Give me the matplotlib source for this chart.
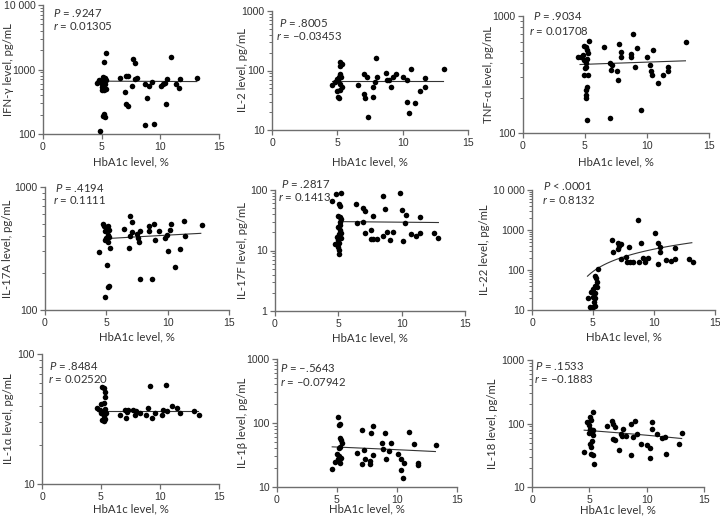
"""HbA1c vs cytokine levels, 3x3 scatter grid."""

import matplotlib

matplotlib.use("Agg")
import matplotlib.pyplot as plt
import numpy as np
from matplotlib.ticker import LogLocator, NullFormatter

# ---- data ----
ifng_x = [5.36, 5.21, 4.56, 4.79, 4.93, 4.99, 5.07, 5.13, 5.21, 5.30, 5.36, 5.19, 5.0, 5.27,
          5.18, 5.27, 5.10, 4.84, 5.41, 6.55, 7.01, 7.07, 7.26, 7.07, 7.26, 7.64, 7.83, 7.83,
          7.61, 7.98, 8.72, 8.86, 8.72, 9.06, 9.26, 9.49, 10.03, 10.20, 10.37, 10.48, 10.60,
          10.91, 11.31, 11.62, 11.68, 13.16]
ifng_y = [1780, 1290, 615, 680, 640, 535, 590, 775, 690, 745, 505, 475, 480, 600,
          205, 182, 193, 110, 680, 737, 440, 780, 780, 290, 270, 1480, 1265, 700,
          550, 740, 590, 360, 138, 550, 640, 142, 550, 590, 615, 290, 700,
          1540, 600, 525, 700, 745]

il2_x = [4.63, 4.81, 4.94, 5.06, 5.14, 5.19, 5.24, 5.19, 5.32, 5.27, 5.06, 5.19, 5.32, 5.19,
         4.94, 5.12, 6.60, 7.06, 7.24, 7.03, 7.11, 7.31, 7.70, 7.75, 7.88, 7.98, 8.0, 8.70,
         8.77, 8.95, 9.10, 9.28, 9.49, 10.05, 10.31, 10.36, 10.49, 10.61, 10.95, 11.36,
         11.71, 11.74, 13.20]
il2_y = [56, 64, 46, 36, 34, 138, 121, 88, 130, 77, 68, 60, 53, 47,
         72, 79, 58, 86, 77, 41, 35, 16.3, 36, 53, 64, 163, 79, 92,
         68, 68, 53, 77, 86, 77, 70, 30, 19.4, 104, 28, 46,
         75, 52, 104]

tnfa_x = [4.47, 4.69, 4.85, 4.91, 5.07, 5.18, 5.26, 5.34, 4.93, 5.07, 5.18, 5.0, 5.12, 4.91,
          5.26, 5.18, 5.12, 5.07, 5.12, 5.18, 6.52, 7.0, 7.09, 7.20, 7.0, 7.60, 7.68, 7.76,
          7.92, 7.92, 8.68, 8.68, 8.87, 9.0, 9.16, 9.49, 10.0, 10.24, 10.30, 10.38, 10.51,
          10.86, 11.32, 11.67, 11.73, 13.13]
tnfa_y = [443, 443, 463, 553, 546, 511, 480, 615, 420, 393, 433, 356, 368, 312,
          312, 245, 232, 210, 201, 128, 538, 398, 344, 380, 134, 340, 283, 571,
          495, 448, 472, 443, 696, 368, 535, 158, 443, 385, 340, 312, 511,
          268, 312, 368, 340, 598]

il17a_x = [4.44, 4.69, 4.85, 4.99, 5.10, 4.93, 5.10, 4.99, 5.18, 5.23, 5.10, 4.90, 5.26, 5.04,
           5.10, 5.18, 4.93, 6.43, 6.84, 6.89, 7.08, 7.08, 6.89, 7.49, 7.55, 7.63, 7.77, 7.77,
           8.45, 8.50, 8.86, 8.72, 8.99, 9.26, 9.81, 9.95, 10.03, 10.22, 10.27, 10.63, 11.04,
           11.31, 11.39, 12.78]
il17a_y = [298, 500, 484, 463, 478, 435, 408, 383, 449, 395, 360, 371, 321, 231,
           155, 158, 127, 457, 321, 585, 519, 427, 401, 413, 383, 356, 441, 177,
           478, 441, 500, 177, 371, 435, 388, 408, 304, 449, 500, 224, 311,
           526, 401, 493]

il17f_x = [4.49, 4.81, 5.20, 5.02, 5.12, 4.99, 5.12, 5.20, 5.12, 4.99, 5.12, 5.20, 5.07, 4.86,
           4.73, 4.94, 5.07, 4.94, 5.07, 5.07, 5.20, 5.17, 6.38, 6.44, 6.91, 6.91, 7.09, 7.12,
           7.54, 7.54, 7.75, 7.75, 8.06, 8.54, 8.54, 8.72, 8.88, 9.06, 9.32, 9.85, 10.06,
           10.11, 10.24, 10.35, 10.72, 11.11, 11.43, 11.48, 12.58, 12.90]
il17f_y = [65.8, 87, 89, 58.7, 54, 37, 36, 33, 30, 24.8, 21.8, 19.7, 18.5, 17,
           12.6, 14.9, 13.1, 11.6, 10.2, 8.6, 15.9, 26.4, 58, 28, 51, 30, 45, 19.2,
           21.8, 15.3, 37, 15.3, 15.3, 79.6, 17.4, 48.5, 20.5, 14.9, 20.5, 88, 46.7,
           14.4, 28, 38.6, 18.5, 17.4, 19.2, 36, 19.2, 16.3]

il22_x = [4.55, 4.77, 4.99, 5.13, 4.85, 4.99, 5.13, 5.04, 5.18, 5.18, 5.26, 5.32, 5.18, 5.37,
          5.32, 5.10, 6.54, 6.60, 7.04, 7.09, 7.17, 7.28, 7.31, 7.72, 7.77, 7.99, 8.04, 8.26,
          8.70, 8.73, 8.92, 9.08, 9.24, 9.49, 10.06, 10.31, 10.36, 10.50, 10.50, 10.96,
          11.37, 11.73, 11.73, 12.87, 13.17]
il22_y = [20, 11.7, 11.7, 12.8, 29, 33.6, 26.7, 20.8, 20, 40.8, 62, 49.5, 72.8, 103,
          37, 15.6, 551, 281, 481, 340, 396, 454, 184, 210, 157, 374, 157, 157,
          1750, 163, 481, 198, 157, 198, 857, 472, 143, 374, 281, 180,
          170, 353, 184, 191, 163]

il1a_x = [4.65, 4.88, 4.99, 5.10, 5.27, 5.33, 5.38, 5.22, 5.07, 5.22, 5.33, 5.27, 5.07, 4.96,
          5.38, 5.45, 6.63, 7.0, 7.13, 7.19, 7.27, 7.75, 7.89, 7.98, 8.32, 8.80, 9.0, 9.16,
          9.30, 9.59, 10.15, 10.29, 10.49, 10.57, 11.0, 11.42, 11.70, 12.91, 13.28]
il1a_y = [38.5, 37, 41, 56, 54.7, 50.7, 46.4, 41.8, 35.6, 33.6, 31.6, 30.3, 31, 35,
          38, 35, 34, 37, 32.2, 35.6, 37, 37, 34.1, 36.5, 35, 34, 38.2, 56.3,
          32.2, 35, 34, 37, 58, 36.6, 40, 38.5, 35.2, 36.6, 34]

il1b_x = [4.61, 4.86, 5.06, 5.14, 5.22, 5.22, 5.36, 5.39, 5.14, 5.28, 4.99, 5.17, 5.33, 5.14,
          5.28, 5.06, 6.67, 7.08, 7.08, 7.28, 7.36, 7.83, 7.97, 8.0, 7.78, 7.72, 8.75, 8.83,
          8.97, 9.08, 9.31, 9.53, 10.11, 10.36, 10.36, 10.50, 10.56, 10.97, 11.39, 11.72,
          11.72, 13.22]
il1b_y = [19.4, 25, 125, 92.5, 98, 57.8, 53.8, 49.5, 41.3, 42, 32.5, 30.6, 28.8, 25.5,
          24, 27, 34.5, 77, 22.6, 37.5, 27.1, 71, 90, 31.7, 25.5, 22.6, 49.5, 39.8,
          69.3, 27.1, 36.6, 49.5, 33.3, 27.1, 18.2, 14, 24, 72.8, 46.6, 24,
          22.1, 45]

il18_x = [4.55, 4.79, 4.93, 5.02, 5.08, 5.16, 5.31, 5.08, 5.16, 5.22, 5.31, 5.25, 5.16, 5.31,
          5.37, 4.96, 5.31, 6.53, 6.99, 7.05, 7.05, 7.25, 7.25, 7.63, 7.75, 7.92, 7.83, 8.21,
          8.62, 8.67, 8.85, 9.02, 9.20, 9.49, 10.0, 10.30, 10.30, 10.44, 10.50, 10.88,
          11.31, 11.63, 11.66, 12.82, 13.11]
il18_y = [36.1, 104, 72, 81.5, 127, 113, 153, 47.2, 42.8, 74.8, 66.2, 53.3, 32.8, 32,
          23.4, 95, 80, 92, 110, 100, 58, 54.6, 86.5, 37.9, 69.5, 81.5, 63.8, 63.8,
          97.5, 32, 61.5, 110, 67.9, 48.3, 46, 40.8, 29, 81.5, 104, 67.9,
          60, 61.5, 32.8, 48.3, 72]

# regression line: x range and fitted y at both ends
fit_x = [(4.6, 13.1), (4.6, 13.1), (4.6, 13.1), (4.9, 12.7), (5.2, 12.9),
         (4.55, 13.1), (4.65, 13.2), (4.6, 13.2), (4.55, 13.05)]
fit_y = [(660, 650), (66, 66), (385, 414), (380, 420), (30, 29),
         (70, 481), (36.5, 36.5), (42.4, 35.8), (78.5, 58)]

y_labels = ["IFN-\u03b3 level, pg/mL", "IL-2 level, pg/mL", "TNF-\u03b1 level, pg/mL",
            "IL-17A level, pg/mL", "IL-17F level, pg/mL", "IL-22 level, pg/mL",
            "IL-1\u03b1 level, pg/mL", "IL-1\u03b2 level, pg/mL", "IL-18 level, pg/mL"]
p_text = [".9247", ".8005", ".9034", ".4194", ".2817", "< .0001", ".8484", "\u2013.5643", ".1533"]
r_text = ["0.01305", "\u20130.03453", "0.01708", "0.1111", "0.1413", "0.8132",
          "0.02520", "\u20130.07942", "\u20130.1883"]
y_ranges = [(100, 10000), (10, 1000), (100, 1000), (100, 1000), (1, 100),
            (10, 10000), (10, 100), (10, 1000), (10, 1000)]

xs = [ifng_x, il2_x, tnfa_x, il17a_x, il17f_x, il22_x, il1a_x, il1b_x, il18_x]
ys = [ifng_y, il2_y, tnfa_y, il17a_y, il17f_y, il22_y, il1a_y, il1b_y, il18_y]

# ---- layout (pixels in a 720x516 canvas) ----
W, H = 720, 516
boxes = [(43, 219, 5, 134), (272, 468, 11, 130), (523, 709, 16, 133),
         (45, 229, 187, 310), (275, 465, 190, 311), (532, 715, 190, 310),
         (42, 219, 354, 484), (277, 457, 359, 487), (532, 704, 360, 487)]
ylabel_px = [8, 242, 489, 8, 243, 484, 8, 243, 493]
xlabel_py = [162, 162, 162, 337, 338, 337, 509, 509, 510]
text_px = [((53, 13), (53, 26)), ((279, 23), (276, 36)), ((533, 16), (529, 31)),
           ((55, 188), (53, 200)), ((281, 184), (278, 197)), ((543, 186), (542, 200)),
           ((49, 366), (48, 379)), ((280, 368), (280, 382)), ((535, 366), (534, 379))]

plt.rcParams["font.family"] = ["Lato", "DejaVu Sans"]
plt.rcParams["mathtext.fontset"] = "custom"
plt.rcParams["mathtext.it"] = "Lato:italic"
plt.rcParams["mathtext.rm"] = "Lato"

ink = "#333333"
axis_col = "#6e6e6e"
fig = plt.figure(figsize=(7.2, 5.16), dpi=100)

for i in range(9):
    left, right, top, bottom = boxes[i]
    ax = fig.add_axes([left / W, 1 - bottom / H, (right - left) / W, (bottom - top) / H])
    ax.set_yscale("log")
    ax.set_xlim(0, 15)
    ax.set_ylim(*y_ranges[i])

    ax.scatter(xs[i], ys[i], s=16, color="black", linewidths=0, zorder=3, clip_on=False)

    x0, x1 = fit_x[i]
    y0, y1 = fit_y[i]
    lx = np.linspace(x0, x1, 60)
    ax.plot(lx, y0 + (y1 - y0) * (lx - x0) / (x1 - x0), color="#333333", linewidth=0.8, zorder=2)

    lo, hi = y_ranges[i]
    decades = [10 ** k for k in range(int(np.log10(lo)), int(np.log10(hi)) + 1)]
    ax.set_yticks(decades)
    ax.set_yticklabels(["10 000" if d == 10000 else f"{d:g}" for d in decades])
    ax.yaxis.set_minor_locator(LogLocator(base=10, subs=np.arange(2, 10)))
    ax.yaxis.set_minor_formatter(NullFormatter())
    ax.set_xticks([0, 5, 10, 15])

    for side in ("top", "right"):
        ax.spines[side].set_visible(False)
    for side in ("left", "bottom"):
        ax.spines[side].set_color(axis_col)
        ax.spines[side].set_linewidth(1.0)
    ax.tick_params(which="major", length=3.5, width=0.9, color=axis_col, labelsize=7.6,
                   labelcolor=ink, pad=2)
    ax.tick_params(which="minor", length=2, width=0.7, color=axis_col)
    for lab in ax.get_xticklabels() + ax.get_yticklabels():
        lab.set_fontfamily("Liberation Sans")

    ax.set_xlabel("HbA1c level, %", fontsize=8.2, color=ink, va="center")
    ax.xaxis.set_label_coords(0.5, (bottom - xlabel_py[i]) / (bottom - top))
    ax.set_ylabel(y_labels[i], fontsize=8.2, color=ink, va="center")
    ax.yaxis.set_label_coords((ylabel_px[i] - left) / (right - left), 0.5)

    (px, py), (rx, ry) = text_px[i]
    sep = " " if p_text[i].startswith("<") else " = "
    fig.text(px / W, 1 - py / H, "$P$" + sep + p_text[i], fontsize=8.2, color=ink,
             va="center", ha="left")
    fig.text(rx / W, 1 - ry / H, "$r$ = " + r_text[i], fontsize=8.2, color=ink,
             va="center", ha="left")

fig.savefig("out.png", dpi=100)
